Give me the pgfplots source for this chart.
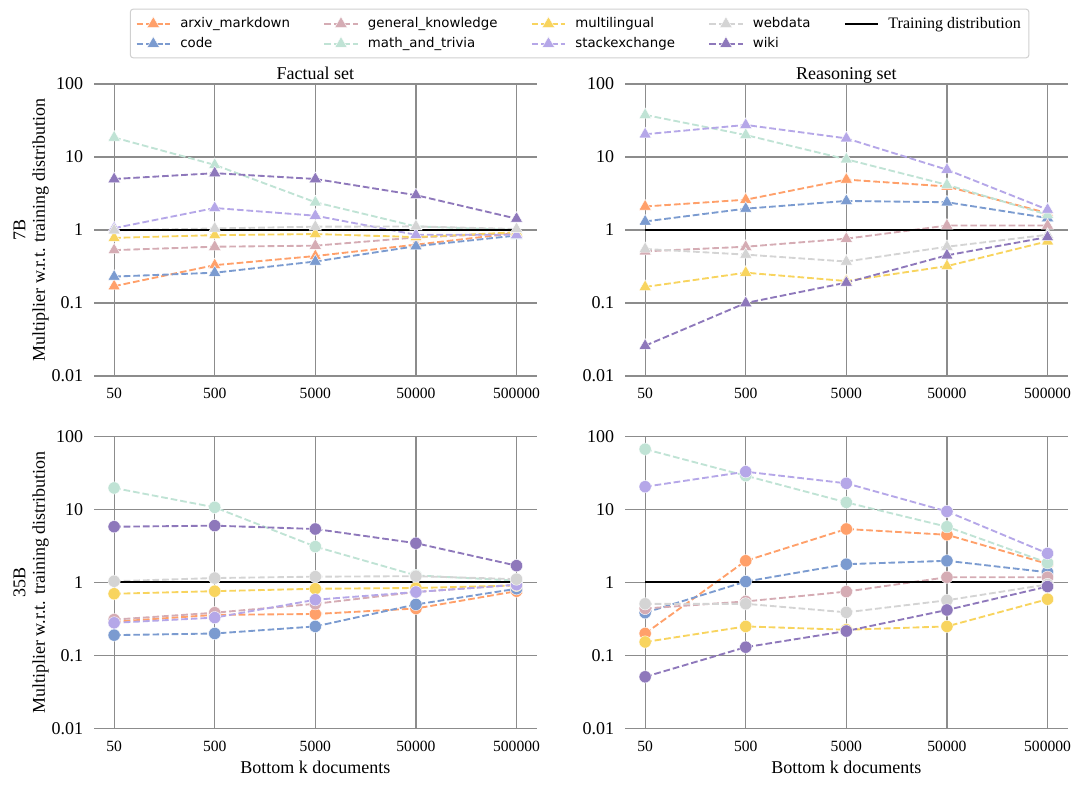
\documentclass[border=0pt]{standalone}
\usepackage{fontspec}
\setmainfont{Liberation Serif}
\newfontfamily\dejavu{DejaVu Sans}
\usepackage{pgfplots}
\usepackage{pgfplotstable}
\pgfplotsset{compat=1.18}

\definecolor{cArx}{HTML}{FFA06A}
\definecolor{cCode}{HTML}{7B9BD0}
\definecolor{cGen}{HTML}{D5ACB4}
\definecolor{cMath}{HTML}{C0E3D5}
\definecolor{cMulti}{HTML}{F8D45E}
\definecolor{cStack}{HTML}{B5A7E8}
\definecolor{cWeb}{HTML}{D4D4D4}
\definecolor{cWiki}{HTML}{8E78BB}
\definecolor{gridc}{HTML}{8C8C8C}
\definecolor{legc}{HTML}{D0D0D0}

\newcommand\legfont{\dejavu\fontsize{10}{12}\selectfont}

% 7B, factual set
\pgfplotstableread{
x arx  code gen  math multi stack web  wiki
0 0.17 0.23 0.53 18.5 0.78  1.06  0.99 5.0
1 0.33 0.26 0.59 7.8  0.85  2.0   1.05 6.0
2 0.44 0.37 0.61 2.4  0.88  1.57  1.11 5.0
3 0.63 0.60 0.79 1.12 0.80  0.86  1.12 3.0
4 0.91 0.84 0.91 1.00 0.93  0.86  1.03 1.43
}\sevenFact

% 7B, reasoning set
\pgfplotstableread{
x arx  code gen  math multi stack web  wiki
0 2.1  1.31 0.51 37.7 0.166 20.5  0.55 0.026
1 2.6  1.96 0.59 20   0.26  27.5  0.46 0.10
2 4.9  2.5  0.76 9.3  0.20  18    0.37 0.19
3 3.95 2.4  1.15 4.16 0.32  6.7   0.59 0.45
4 1.7  1.46 1.15 1.62 0.70  1.9   0.86 0.80
}\sevenReas

% 35B, factual set
\pgfplotstableread{
x arx  code gen   math multi stack web  wiki
0 0.29 0.19 0.31  19.7 0.70  0.28  1.04 5.8
1 0.36 0.20 0.385 10.7 0.76  0.33  1.15 6.0
2 0.37 0.25 0.51  3.1  0.82  0.58  1.2  5.4
3 0.44 0.50 0.74  1.25 0.84  0.74  1.22 3.45
4 0.76 0.82 0.93  1.06 0.91  0.93  1.11 1.7
}\bigFact

% 35B, reasoning set
\pgfplotstableread{
x arx  code  gen  math multi stack web  wiki
0 0.20 0.385 0.44 67   0.153 20.5  0.51 0.051
1 1.98 1.03  0.55 29   0.25  32.9  0.51 0.13
2 5.4  1.78  0.75 12.5 0.225 22.8  0.39 0.216
3 4.5  1.98  1.18 5.8  0.25  9.4   0.57 0.42
4 1.8  1.38  1.18 1.86 0.59  2.5   0.94 0.88
}\bigReas

\tikzset{
  ser/.style={color=#1, line width=1.4pt, dash pattern=on 5pt off 2.2pt,
    mark options={solid, fill=#1, draw=white, line width=0.3pt}},
  tri/.style={mark=triangle*, mark size=5.3pt},
  dot/.style={mark=*, mark size=4.6pt},
  train/.style={black, line width=1.5pt},
}
\pgfplotsset{
  every axis/.append style={
    scale only axis, width=332pt, height=219pt,
    ymin=0.01, ymax=100, xmin=-0.2, xmax=4.2,
    xtick={0,1,2,3,4}, xticklabels={50,500,5000,50000,500000},
    ytick={0.01,0.1,1,10,100}, yticklabels={0.01,0.1,1,10,100},
    grid=major, major grid style={draw=gridc, line width=0.9pt},
    axis line style={draw=none}, tick style={draw=none},
    xticklabel style={font=\fontsize{11.7}{13}\selectfont, inner sep=0pt, anchor=north, yshift=-9pt},
    yticklabel style={font=\fontsize{13.5}{15}\selectfont, inner sep=0pt, anchor=east, xshift=-8pt},
    title style={font=\fontsize{13.5}{15}\selectfont, at={(0.5,1)}, anchor=base, inner sep=0pt, yshift=-3pt},
    ylabel style={font=\fontsize{13.5}{14.5}\selectfont, align=center, at={(axis description cs:-0.142,0.5)}, anchor=center},
    xlabel style={font=\fontsize{13.5}{15}\selectfont, at={(axis description cs:0.5,-0.132)}, anchor=center},
  },
}

\begin{document}
\begin{tikzpicture}
\path[use as bounding box] (0,0) rectangle (810pt,588.75pt);

\begin{semilogyaxis}[at={(70.5pt,306.75pt)}, anchor=south west,
  title={Factual set}, ylabel={7B\\Multiplier w.r.t. training distribution},
  legend columns=2, transpose legend, legend cell align=left,
  legend image code/.code={\draw[mark repeat=2,mark phase=2] plot coordinates {(0pt,0pt) (12.5pt,0pt) (25pt,0pt)};},
  legend style={at={(1.097,1.173)}, anchor=center, draw=legc, line width=0.75pt, rounded corners=2pt,
    inner xsep=4pt, inner ysep=4pt, /tikz/row sep=1.5pt,
    /tikz/every odd column/.append style={column sep=5pt},
    /tikz/every even column/.append style={column sep=23pt}},
  ]
  \addplot[ser=cArx,tri] table[x=x,y=arx]{\sevenFact};
  \addlegendentry{\legfont arxiv\_markdown}
  \addplot[ser=cCode,tri] table[x=x,y=code]{\sevenFact};
  \addlegendentry{\legfont code}
  \addplot[ser=cGen,tri] table[x=x,y=gen]{\sevenFact};
  \addlegendentry{\legfont general\_knowledge}
  \addplot[ser=cMath,tri] table[x=x,y=math]{\sevenFact};
  \addlegendentry{\legfont math\_and\_trivia}
  \addplot[ser=cMulti,tri] table[x=x,y=multi]{\sevenFact};
  \addlegendentry{\legfont multilingual}
  \addplot[ser=cStack,tri] table[x=x,y=stack]{\sevenFact};
  \addlegendentry{\legfont stackexchange}
  \addplot[ser=cWeb,tri] table[x=x,y=web]{\sevenFact};
  \addlegendentry{\legfont webdata}
  \addplot[ser=cWiki,tri] table[x=x,y=wiki]{\sevenFact};
  \addlegendentry{\legfont wiki}
  \addplot[train] coordinates {(0,1) (4,1)};
  \addlegendentry{\fontsize{12}{14}\selectfont Training distribution}
\end{semilogyaxis}

\begin{semilogyaxis}[at={(468.75pt,306.75pt)}, anchor=south west,
  title={Reasoning set}]
  \addplot[ser=cArx,tri] table[x=x,y=arx]{\sevenReas};
  \addplot[ser=cCode,tri] table[x=x,y=code]{\sevenReas};
  \addplot[ser=cGen,tri] table[x=x,y=gen]{\sevenReas};
  \addplot[ser=cMath,tri] table[x=x,y=math]{\sevenReas};
  \addplot[ser=cMulti,tri] table[x=x,y=multi]{\sevenReas};
  \addplot[ser=cStack,tri] table[x=x,y=stack]{\sevenReas};
  \addplot[ser=cWeb,tri] table[x=x,y=web]{\sevenReas};
  \addplot[ser=cWiki,tri] table[x=x,y=wiki]{\sevenReas};
  \addplot[train] coordinates {(0,1) (4,1)};
\end{semilogyaxis}

\begin{semilogyaxis}[at={(70.5pt,42.4pt)}, anchor=south west,
  ylabel={35B\\Multiplier w.r.t. training distribution},
  xlabel={Bottom k documents}]
  \addplot[ser=cArx,dot] table[x=x,y=arx]{\bigFact};
  \addplot[ser=cCode,dot] table[x=x,y=code]{\bigFact};
  \addplot[ser=cGen,dot] table[x=x,y=gen]{\bigFact};
  \addplot[ser=cMath,dot] table[x=x,y=math]{\bigFact};
  \addplot[ser=cMulti,dot] table[x=x,y=multi]{\bigFact};
  \addplot[ser=cStack,dot] table[x=x,y=stack]{\bigFact};
  \addplot[ser=cWeb,dot] table[x=x,y=web]{\bigFact};
  \addplot[ser=cWiki,dot] table[x=x,y=wiki]{\bigFact};
  \addplot[train] coordinates {(0,1) (4,1)};
\end{semilogyaxis}

\begin{semilogyaxis}[at={(468.75pt,42.4pt)}, anchor=south west,
  xlabel={Bottom k documents}]
  \addplot[ser=cArx,dot] table[x=x,y=arx]{\bigReas};
  \addplot[ser=cCode,dot] table[x=x,y=code]{\bigReas};
  \addplot[ser=cGen,dot] table[x=x,y=gen]{\bigReas};
  \addplot[ser=cMath,dot] table[x=x,y=math]{\bigReas};
  \addplot[ser=cMulti,dot] table[x=x,y=multi]{\bigReas};
  \addplot[ser=cStack,dot] table[x=x,y=stack]{\bigReas};
  \addplot[ser=cWeb,dot] table[x=x,y=web]{\bigReas};
  \addplot[ser=cWiki,dot] table[x=x,y=wiki]{\bigReas};
  \addplot[train] coordinates {(0,1) (4,1)};
\end{semilogyaxis}
\end{tikzpicture}
\end{document}
